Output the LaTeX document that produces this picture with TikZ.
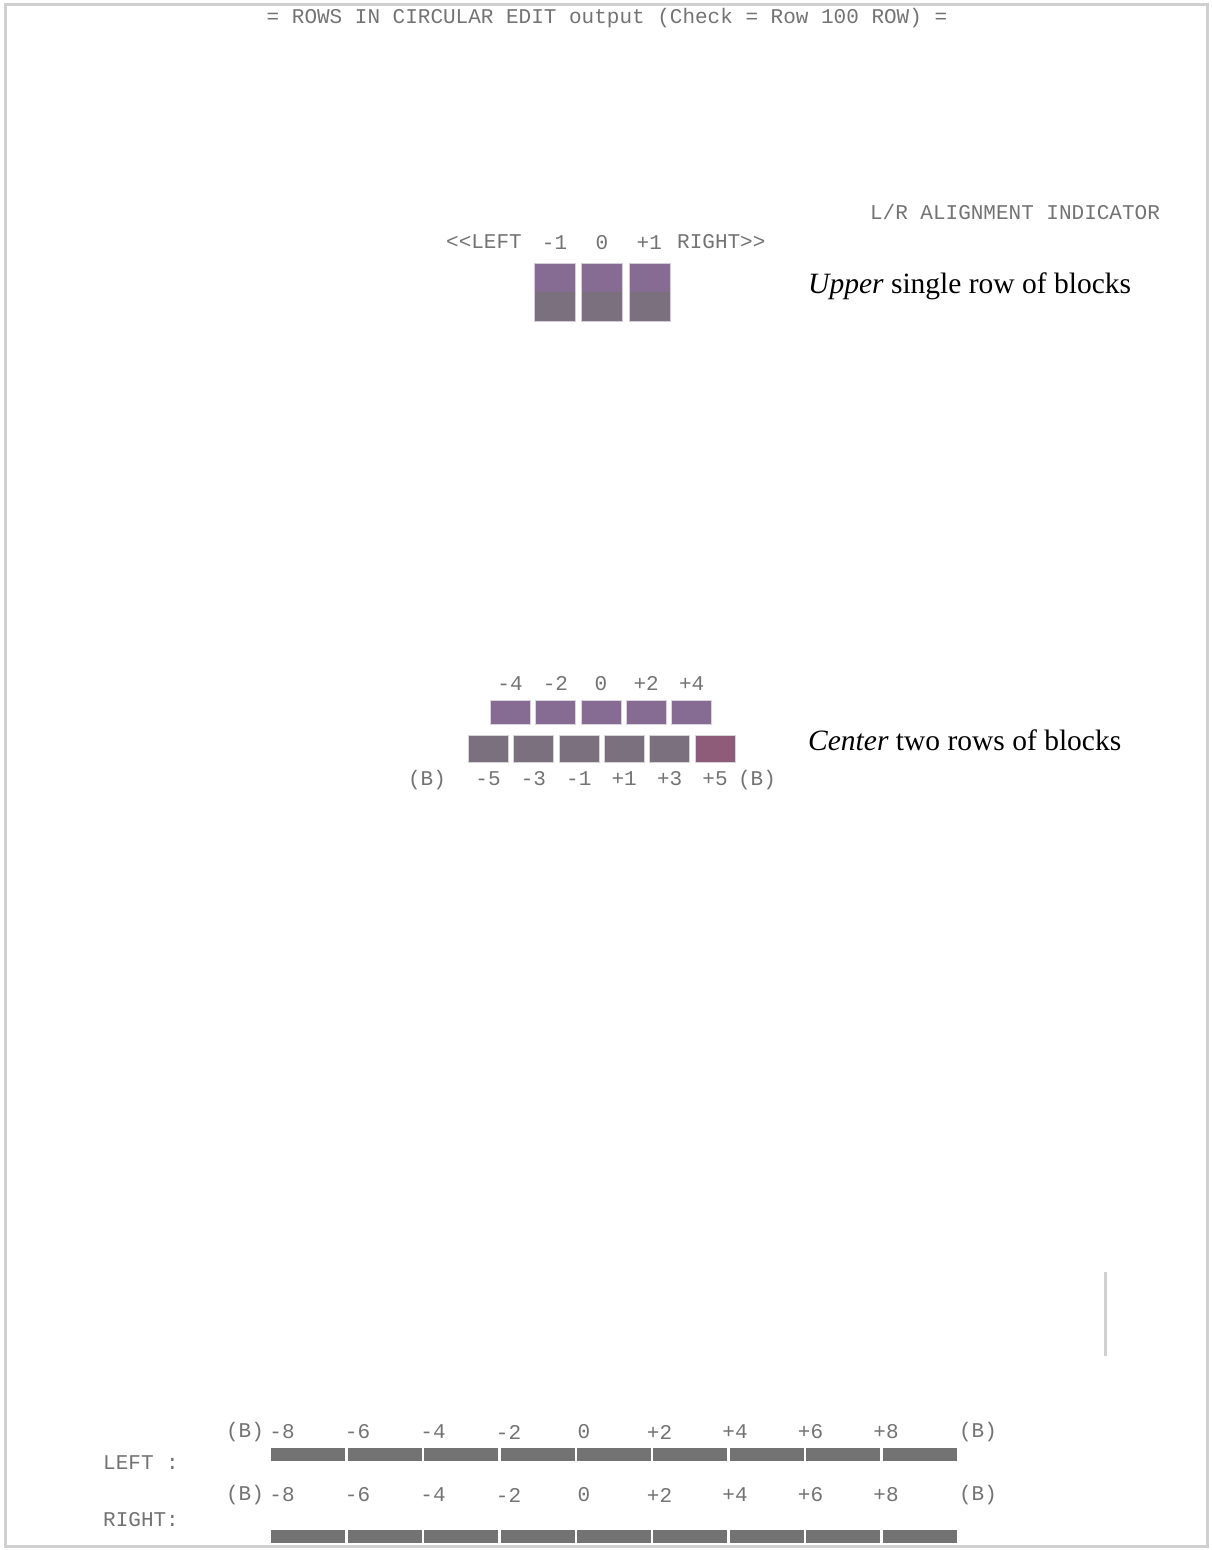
\documentclass[tikz,border=0pt]{standalone}
\usepackage{fontspec}
\setmainfont{Liberation Serif}
\setmonofont{Liberation Mono}
\usetikzlibrary{positioning}
\definecolor{blkpurple}{RGB}{134,108,146}
\definecolor{blkgray}{RGB}{122,112,126}
\definecolor{blkred}{RGB}{142,92,120}
\definecolor{barcol}{RGB}{115,115,115}
\definecolor{framecol}{RGB}{208,208,208}
\tikzset{
  desc/.style={font=\fontsize{29.5}{34}\selectfont, anchor=base west, inner sep=0pt},
  mono/.style={font=\ttfamily\fontsize{21}{24}\selectfont, text=black!55, inner sep=0pt},
  upblk/.style={minimum width=41pt, minimum height=58pt, inner sep=0pt,
                fill=blkpurple, draw=blkpurple!35,
                path picture={\fill[blkgray] (path picture bounding box.west)
                  rectangle (path picture bounding box.south east);}},
  topblk/.style={minimum width=40pt, minimum height=24pt, inner sep=0pt,
                 fill=blkpurple, draw=blkpurple!30},
  lowblk/.style={minimum width=40pt, minimum height=27pt, inner sep=0pt,
                 fill=blkgray, draw=blkgray!30},
  seg/.style={minimum width=74pt, minimum height=13pt, inner sep=0pt, fill=barcol}
}
\begin{document}
\begin{tikzpicture}[x=1pt, y=-1pt]
  \useasboundingbox (0,0) rectangle (1212,1550);
  \draw[framecol, line width=3pt] (5,4) rectangle (1207,1546);
  \node[mono] (title) at (607,18) {= ROWS IN CIRCULAR EDIT output (Check = Row 100 ROW) =};
  \node[mono] (align) at (1015,212) {L/R ALIGNMENT INDICATOR};
  % upper row
  \node[upblk] (u1) at (554.5,292) {};
  \node[upblk, right=6pt of u1] (u2) {};
  \node[upblk, right=6pt of u2] (u3) {};
  \node[mono, above=13pt of u1] (lu1) {-1};
  \node[mono, above=13pt of u2] (lu2) {0};
  \node[mono, above=13pt of u3] (lu3) {+1};
  \node[mono, anchor=east] (uleft) at (522,242) {<{}<LEFT};
  \node[mono, anchor=west] (uright) at (677,242) {RIGHT>{}>};
  \node[desc] (updesc) at (808,293) {\textit{Upper} single row of blocks};
  % center rows
  \node[topblk] (t1) at (510,712) {};
  \foreach \i [evaluate=\i as \j using int(\i-1)] in {2,...,5}
    \node[topblk, right=5pt of t\j] (t\i) {};
  \node[lowblk] (b1) at (488,749) {};
  \foreach \i [evaluate=\i as \j using int(\i-1)] in {2,...,5}
    \node[lowblk, right=5pt of b\j] (b\i) {};
  \node[lowblk, fill=blkred, right=5pt of b5] (b6) {};
  \foreach \v [count=\i] in {-4,-2,0,+2,+4}
    \node[mono, above=9pt of t\i] (lt\i) {\v};
  \foreach \v [count=\i] in {-5,-3,-1,+1,+3,+5}
    \node[mono, below=9pt of b\i] (lb\i) {\v};
  \node[mono] (bleft) at (427,780) {(B)};
  \node[mono] (bright) at (757,780) {(B)};
  \node[desc] (cdesc) at (808,750) {\textit{Center} two rows of blocks};
  % scale rows
  \draw[framecol, line width=3pt] (1105,1272) -- (1105,1356);
  \node[mono, anchor=west] (lrow) at (103,1463) {LEFT :};
  \node[mono, anchor=west] (rrow) at (103,1520) {RIGHT:};
  \foreach \i in {1,...,9} {
    \node[seg] (ls\i) at (232+76.4*\i,1454) {};
    \node[seg] (rs\i) at (232+76.4*\i,1536) {};
  }
  \foreach \v [count=\i from 0] in {-8,-6,-4,-2,0,+2,+4,+6,+8} {
    \node[mono] (lv\i) at (282+75.5*\i,1432) {\v};
    \node[mono] (rv\i) at (282+75.5*\i,1495) {\v};
  }
  \node[mono] (lbl) at (245,1432) {(B)};
  \node[mono] (lbr) at (978,1432) {(B)};
  \node[mono] (rbl) at (245,1495) {(B)};
  \node[mono] (rbr) at (978,1495) {(B)};
\end{tikzpicture}
\end{document}
